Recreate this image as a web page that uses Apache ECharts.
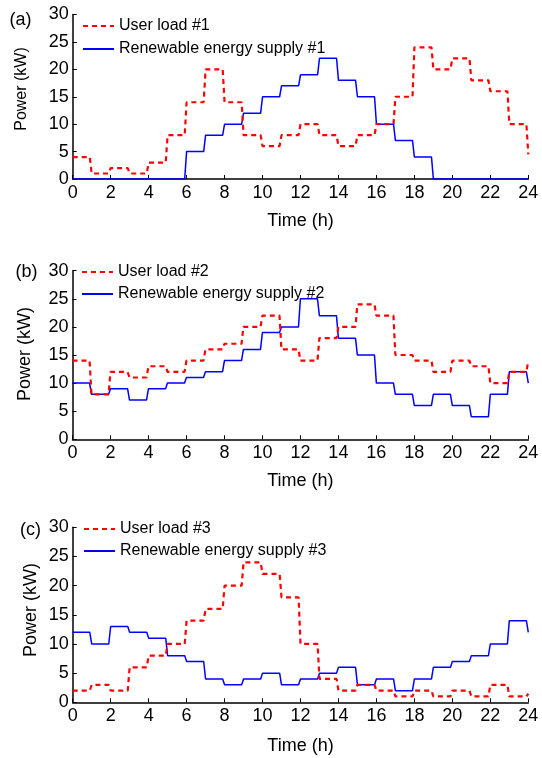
<!DOCTYPE html>
<html>
<head>
<meta charset="utf-8">
<script src="https://cdn.jsdelivr.net/npm/echarts@6/dist/echarts.min.js"></script>
<style>
html,body{margin:0;padding:0;background:#fff;}
#c{width:542px;height:758px;}
</style>
</head>
<body>
<div id="c"></div>
<script>
// Hourly values (value held during hour h; last entry = value at 24 h)
const hours = [0,1,2,3,4,5,6,7,8,9,10,11,12,13,14,15,16,17,18,19,20,21,22,23,24];
const load1   = [4,1,2,1,3,8,14,20,14,8,6,8,10,8,6,8,10,15,24,20,22,18,16,10,4.5];
const supply1 = [0,0,0,0,0,0,5,8,10,12,15,17,19,22,18,15,10,7,4,0,0,0,0,0,0];
const load2   = [14,8,12,11,13,12,14,16,17,20,22,16,14,18,20,24,22,15,14,12,14,13,10,12,14];
const supply2 = [10,8,9,7,9,10,11,12,14,16,19,20,25,22,18,15,10,8,6,8,6,4,8,12,10];
const load3   = [2,3,2,6,8,10,14,16,20,24,22,18,10,4,2,3,2,1,2,1,2,1,3,1,1.5];
const supply3 = [12,10,13,12,11,8,7,4,3,4,5,3,4,5,6,3,4,2,4,6,7,8,10,14,12];
const xTicks = [0,2,4,6,8,10,12,14,16,18,20,22,24];
const yTicks = [0,5,10,15,20,25,30];
const panelLabels = ['(a)','(b)','(c)'];

function stepData(vals){
  const out = [];
  for (let i = 0; i < hours.length; i++) {
    out.push([hours[i], vals[i]]);
    if (i < hours.length - 1) out.push([hours[i] + 0.9, vals[i]]);
  }
  return out;
}

const FONT = 'Liberation Sans, Arial, sans-serif';
const grids = [
  {left:72.7, right:13.7, top:14.5, height:164.5},
  {left:72.5, right:13.7, top:270.7, height:168.6},
  {left:72.7, right:13.7, top:527.3, height:175}
];
const loads = [load1, load2, load3];
const supplies = [supply1, supply2, supply3];
const legendTops = [18, 264, 521];
const legendGaps = [7, 6, 6];
const legendLefts = [82, 81, 83];

const option = {
  animation:false,
  backgroundColor:'#fff',
  grid: grids,
  xAxis: grids.map((g,i)=>({
    type:'value', gridIndex:i, min:xTicks[0], max:xTicks[xTicks.length-1], interval:2,
    name:'Time (h)', nameLocation:'middle', nameGap: i===2 ? 35 : 33,
    nameTextStyle:{fontFamily:FONT, fontSize:18, color:'#000'},
    axisLine:{lineStyle:{color:'#000', width:1.5}},
    axisTick:{inside:true, length:4, lineStyle:{color:'#000'}},
    axisLabel:{fontFamily:FONT, fontSize:18, color:'#000', margin:5},
    splitLine:{show:false}
  })),
  yAxis: grids.map((g,i)=>({
    type:'value', gridIndex:i, min:yTicks[0], max:yTicks[yTicks.length-1], interval:5,
    axisLine:{show:true, lineStyle:{color:'#000', width:1.5}},
    axisTick:{show:true, inside:true, length:4, lineStyle:{color:'#000'}},
    axisLabel:{fontFamily:FONT, fontSize:18, color:'#000', margin:4},
    splitLine:{show:false}
  })),
  legend: grids.map((g,i)=>({
    orient:'vertical', left:legendLefts[i], top:legendTops[i], padding:0,
    itemWidth:31, itemHeight:14, itemGap:legendGaps[i],
    itemStyle:{opacity:0},
    textStyle:{fontFamily:FONT, fontSize:16, color:'#000'},
    data:['User load #'+(i+1), 'Renewable energy supply #'+(i+1)]
  })),
  series: [].concat(...grids.map((g,i)=>[
    {
      name:'User load #'+(i+1), type:'line', xAxisIndex:i, yAxisIndex:i,
      symbol:'none', showSymbol:false, data:stepData(loads[i]),
      lineStyle:{color:'#ff0000', width:2.2, type:[5,4]},
      itemStyle:{color:'#ff0000'}, z:3
    },
    {
      name:'Renewable energy supply #'+(i+1), type:'line', xAxisIndex:i, yAxisIndex:i,
      symbol:'none', showSymbol:false, data:stepData(supplies[i]),
      lineStyle:{color:'#0000ff', width:1.5},
      itemStyle:{color:'#0000ff'}, z:2
    }
  ])),
  graphic: [
    {type:'text', x:20.5, y:20, style:{text:panelLabels[0], font:'18px '+FONT, fill:'#000', align:'center', verticalAlign:'middle'}},
    {type:'text', x:26.5, y:272, style:{text:panelLabels[1], font:'18px '+FONT, fill:'#000', align:'center', verticalAlign:'middle'}},
    {type:'text', x:30.5, y:530, style:{text:panelLabels[2], font:'18px '+FONT, fill:'#000', align:'center', verticalAlign:'middle'}},
    {type:'text', x:22, y:89, rotation:Math.PI/2, style:{text:'Power (kW)', font:'16px '+FONT, fill:'#000', align:'center', verticalAlign:'middle'}},
    {type:'text', x:25, y:354, rotation:Math.PI/2, style:{text:'Power (kW)', font:'18px '+FONT, fill:'#000', align:'center', verticalAlign:'middle'}},
    {type:'text', x:31, y:610, rotation:Math.PI/2, style:{text:'Power (kW)', font:'18px '+FONT, fill:'#000', align:'center', verticalAlign:'middle'}}
  ]
};
const chart = echarts.init(document.getElementById('c'), null, {renderer:'canvas'});
chart.setOption(option);
</script>
</body>
</html>
